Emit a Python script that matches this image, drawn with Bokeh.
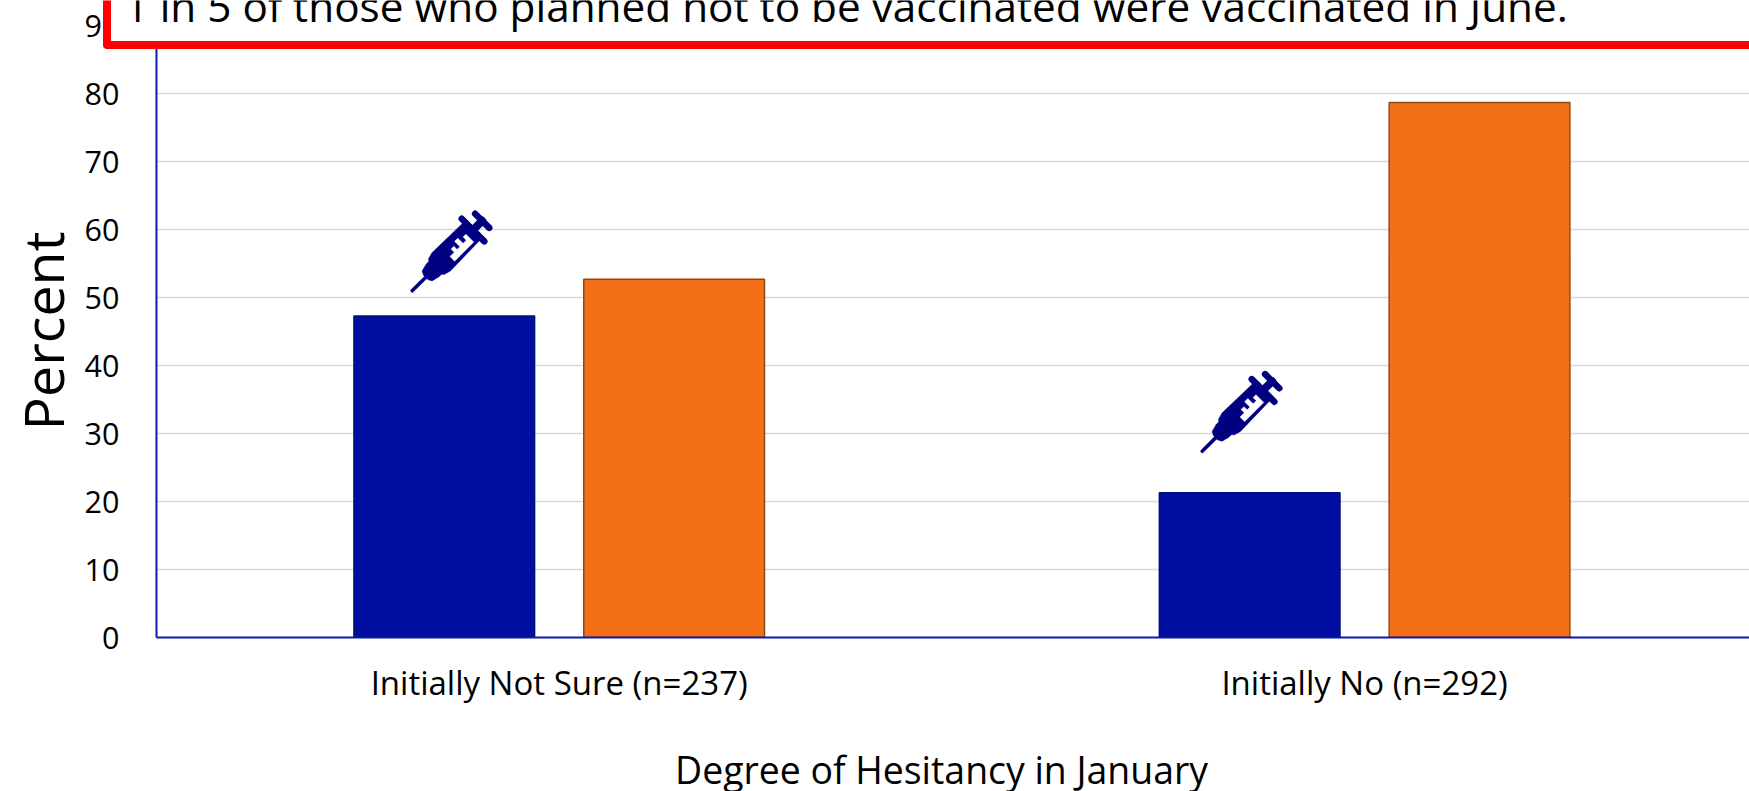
import math
from bokeh.embed import file_html
from bokeh.resources import INLINE
from bokeh.plotting import figure
from bokeh.models import FixedTicker
from bokeh.core.properties import value

categories = ["Initially Not Sure (n=237)", "Initially No (n=292)"]
vaccinated = [47.3, 21.3]
not_vaccinated = [52.7, 78.7]
y_ticks = [0, 10, 20, 30, 40, 50, 60, 70, 80, 90]
callout = "1 in 5 of those who planned not to be vaccinated were vaccinated in June."
x_title = "Degree of Hesitancy in January"
y_title = "Percent"
icon_tips = [(0.3166, 50.9), (1.2975, 27.3)]

W, H = 1749, 791
LEFT, BOTTOM, TOP = 156, 154, 24
PX_X = 805.4      # pixels per category
PX_Y = 6.797      # pixels per percent
FONT = "Open Sans"
BLUE, ORANGE = "#000F9F", "#F37016"
NAVY = "#000080"
PINNED = {"position": "absolute", "left": "0px", "top": "0px"}

p = figure(width=W, height=H, output_backend="svg", toolbar_location=None,
           x_range=(0, (W - LEFT) / PX_X), y_range=(0, (H - BOTTOM - TOP) / PX_Y),
           min_border_left=LEFT, min_border_right=0, min_border_top=TOP, min_border_bottom=BOTTOM,
           outline_line_color=None, background_fill_color="white", border_fill_color="white")
p.styles = PINNED

p.xgrid.visible = False
p.ygrid.grid_line_color = "#D9D9D9"
p.ygrid.grid_line_width = 1.6
p.ygrid.ticker = FixedTicker(ticks=y_ticks)

p.yaxis.ticker = FixedTicker(ticks=y_ticks)
p.xaxis.ticker = FixedTicker(ticks=[0.5, 1.5])
p.xaxis.major_label_overrides = {0.5: categories[0], 1.5: categories[1]}
for ax in (p.xaxis[0], p.yaxis[0]):
    ax.axis_line_color = "#0A1AA8"
    ax.axis_line_width = 2
    ax.major_tick_line_color = None
    ax.minor_tick_line_color = None
    ax.major_label_text_color = "black"
    ax.major_label_text_font = FONT
p.yaxis.major_label_text_font_size = "30.5px"
p.yaxis.major_label_standoff = 31
p.xaxis.major_label_text_font_size = "33px"
p.xaxis.major_label_standoff = 16
p.yaxis.axis_label = y_title
p.yaxis.axis_label_text_font = FONT
p.yaxis.axis_label_text_font_size = "55.5px"
p.yaxis.axis_label_text_font_style = "normal"
p.yaxis.axis_label_text_color = "black"
p.yaxis.axis_label_standoff = 2

OFFSET, BAR_W = 0.1427, 0.2244
centers = [i + 0.5 for i in range(len(categories))]
p.vbar(x=[c - OFFSET for c in centers], top=vaccinated, width=BAR_W, fill_color=BLUE,
       line_color="#00107A", line_width=1.4)
p.vbar(x=[c + OFFSET for c in centers], top=not_vaccinated, width=BAR_W, fill_color=ORANGE,
       line_color="#8A4A1E", line_width=1.5)

# syringe icon, local (u along the needle from its tip, v across), in pixels
def place(tip, pts):
    out_x, out_y = [], []
    s = math.sqrt(0.5)
    for u, v in pts:
        out_x.append(tip[0] + (u - v) * s / PX_X)
        out_y.append(tip[1] + (u + v) * s / PX_Y)
    return out_x, out_y

BARREL = [(31, -5), (35, -11), (42, -13), (87, -12), (87, 12), (42, 13), (35, 11), (31, 5)]
HUB = [(20, -3), (22, -7), (30, -9), (38, -9), (38, 9), (30, 9), (22, 7), (20, 3)]
WINDOW = [(52, -9), (79, -9), (79, 2), (75, 2), (75, -2.5), (70.5, -2.5), (70.5, 5), (66, 5),
          (66, -2.5), (62, -2.5), (62, 2), (58, 2), (58, -2.5), (52, -2.5)]
LINES = [([(1, 0), (22, 0)], 3.6), ([(87, -16), (87, 16)], 6.5), ([(87, 0), (100, 0)], 8),
         ([(100, -10), (100, 10)], 6.5)]
for tip in icon_tips:
    for shape, col in ((BARREL, NAVY), (HUB, NAVY), (WINDOW, "white")):
        xs, ys = place(tip, shape)
        p.patch(xs, ys, fill_color=col, line_color=col, line_width=0.5)
    for pts, lw in LINES:
        xs, ys = place(tip, pts)
        p.line(xs, ys, line_color=NAVY, line_width=lw, line_cap="round")

# transparent page-sized layer above the chart: callout box and the x title
over = figure(width=W, height=H, output_backend="svg", toolbar_location=None,
              x_range=(0, W), y_range=(H, 0), x_axis_type=None, y_axis_type=None,
              min_border=0, outline_line_color=None,
              background_fill_alpha=0, border_fill_alpha=0)
over.styles = PINNED
over.quad(left=[106.5], right=[W + 60], top=[-60], bottom=[44.5], fill_color="white",
          line_color="#FF0000", line_width=8, line_join="round")
over.text(x=[124], y=[5.0], text=[callout], text_align="left", text_baseline="alphabetic",
          text_font=value(FONT), text_font_size="42.3px", text_color="black")
over.text(x=[941], y=[769], text=[x_title], text_align="center", text_baseline="middle",
          text_font=value(FONT), text_font_size="37.4px", text_color="black")

open("out.html", "w").write(file_html([p, over], INLINE))
